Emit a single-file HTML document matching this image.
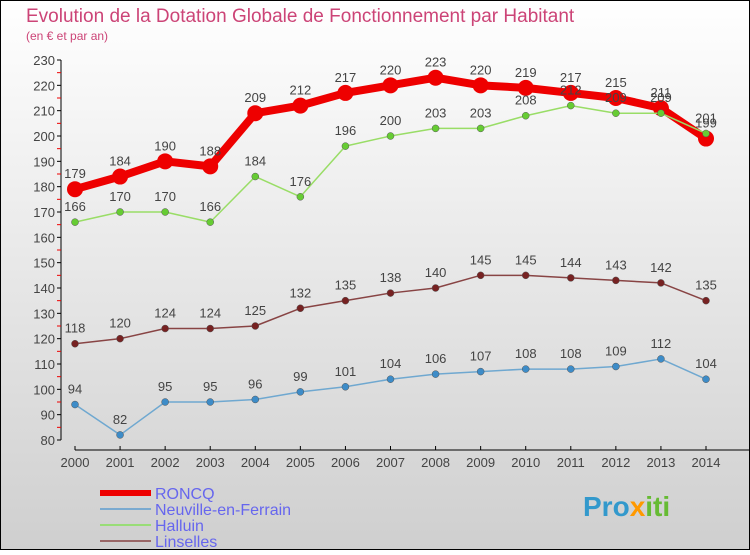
<!DOCTYPE html>
<html><head><meta charset="utf-8"><style>
html,body{margin:0;padding:0}
body{width:750px;height:550px;overflow:hidden;font-family:"Liberation Sans",sans-serif}
svg text{font-family:"Liberation Sans",sans-serif}
</style></head><body>
<svg id="chart" width="750" height="550" xmlns="http://www.w3.org/2000/svg">
<defs><linearGradient id="bg" x1="0" y1="0" x2="0" y2="1"><stop offset="0" stop-color="#ffffff"/><stop offset="1" stop-color="#cfcfcf"/></linearGradient></defs>
<rect x="0.5" y="0.5" width="749" height="549" fill="url(#bg)" stroke="#000"/>
<text x="26" y="22" font-size="19" fill="#cc4477">Evolution de la Dotation Globale de Fonctionnement par Habitant</text>
<text x="26" y="40" font-size="12" fill="#cc4477">(en € et par an)</text>
<g id="axes"></g><g id="series"></g><g id="legend"></g>
<text x="583" y="516" font-size="28" font-weight="bold" fill="#3399cc">Pro<tspan fill="#ff9900">x</tspan><tspan fill="#66bb33">iti</tspan></text>
</svg>
<script>
const years=[2000,2001,2002,2003,2004,2005,2006,2007,2008,2009,2010,2011,2012,2013,2014];
const roncq=[179,184,190,188,209,212,217,220,223,220,219,217,215,211,199];
const neuville=[94,82,95,95,96,99,101,104,106,107,108,108,109,112,104];
const halluin=[166,170,170,166,184,176,196,200,203,203,208,212,209,209,201];
const linselles=[118,120,124,124,125,132,135,138,140,145,145,144,143,142,135];
const yTicks=[80,90,100,110,120,130,140,150,160,170,180,190,200,210,220,230];
const NS="http://www.w3.org/2000/svg";
const x=i=>75+i*(706-75)/14;
const y=v=>440-(v-80)*380/150;
function mk(t,a,p){const e=document.createElementNS(NS,t);for(const k in a)e.setAttribute(k,a[k]);p.appendChild(e);return e;}
const ax=document.getElementById('axes');
let e=mk('line',{x1:61,y1:y(230),x2:61,y2:y(80),stroke:'#000'},ax);


yTicks.forEach(v=>{mk('line',{x1:57,y1:y(v),x2:61,y2:y(v),stroke:'#000'},ax);
 if(v<230)mk('line',{x1:57,y1:y(v+5),x2:61,y2:y(v+5),stroke:'#e00'},ax);
 const t=mk('text',{x:55,y:y(v)+5,'text-anchor':'end','font-size':13,fill:'#444'},ax);t.textContent=v;
 
 });
e=mk('line',{x1:75,y1:450,x2:750,y2:450,stroke:'#000'},ax);


years.forEach((yr,i)=>{mk('line',{x1:x(i),y1:446,x2:x(i),y2:450,stroke:'#000'},ax);
 const t=mk('text',{x:x(i),y:467,'text-anchor':'middle','font-size':13,fill:'#444'},ax);t.textContent=yr;
 
 });
const sg=document.getElementById('series');
function draw(name,data,color,lw,r,dot){
 const g=mk('g',{},sg);
 
 
 mk('polyline',{points:data.map((v,i)=>x(i)+','+y(v)).join(' '),fill:'none',stroke:color,'stroke-width':lw,'stroke-linejoin':'round'},g);
 data.forEach((v,i)=>{const c=mk('circle',{cx:x(i),cy:y(v),r:r,fill:dot,stroke:dot==color?'none':'#555','stroke-width':0.5},g);
  
  
  const t=mk('text',{x:x(i),y:y(v)-11,'text-anchor':'middle','font-size':13,fill:'#444'},g);t.textContent=v;
  
  });
}
draw('linselles',linselles,'#884444',1.5,3.5,'#772222');
draw('neuville',neuville,'#6fa8d0',1.5,3.5,'#3d8cc8');
draw('roncq',roncq,'#ee0000',8,8,'#ee0000');
draw('halluin',halluin,'#99dd66',1.5,3.5,'#66cc33');
const lg=document.getElementById('legend');
[['RONCQ','#ee0000',6],['Neuville-en-Ferrain','#7aaad0',2],['Halluin','#99dd77',2],['Linselles','#996666',2]].forEach((d,i)=>{
 const yy=493+i*16;
 const g=mk('g',{},lg);
 
 
 mk('line',{x1:100,y1:yy,x2:151,y2:yy,stroke:d[1],'stroke-width':d[2]},g);
 const t=mk('text',{x:155,y:yy+6,'font-size':16,fill:'#6666ee'},g);t.textContent=d[0];
});
</script>
</body></html>
